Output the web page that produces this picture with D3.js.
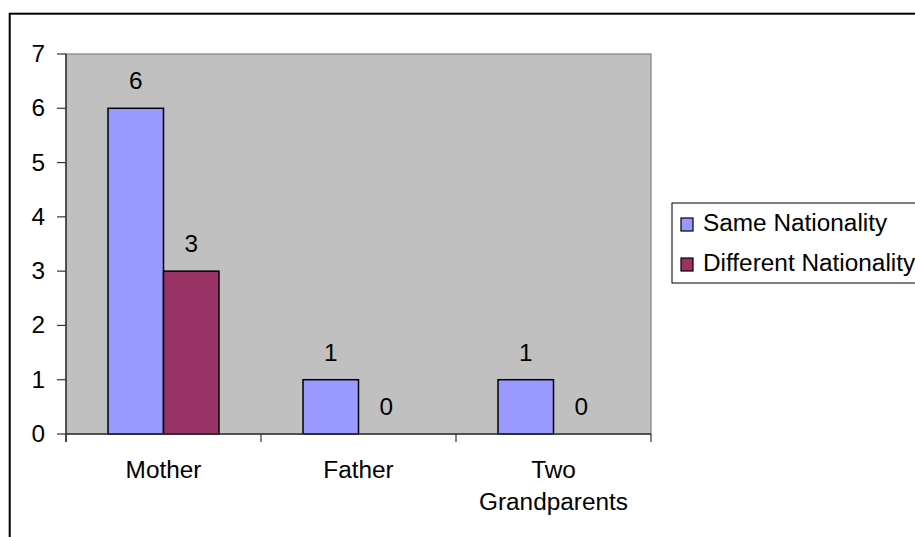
<!DOCTYPE html>
<html>
<head>
<meta charset="utf-8">
<script src="https://cdn.jsdelivr.net/npm/d3@7"></script>
<style>
  html, body { margin: 0; padding: 0; background: #fff; }
  svg { display: block; }
  text { font-family: "Liberation Sans", Arial, sans-serif; fill: #000; }
</style>
</head>
<body>
<svg id="chart" width="915" height="537"></svg>
<script>
const categories = ["Mother", "Father", "Two\nGrandparents"];
const seriesNames = ["Same Nationality", "Different Nationality"];
const sameValues = [6, 1, 1];
const differentValues = [3, 0, 0];
const yTicks = [0, 1, 2, 3, 4, 5, 6, 7];
const colors = ["#9999FF", "#993366"];

const seriesValues = [sameValues, differentValues];
const data = categories.map((c, i) => ({
  cat: c,
  vals: seriesNames.map((s, j) => ({ s, v: seriesValues[j][i] }))
}));

const svg = d3.select("#chart");
const SX = 1.06, FS = 23;

function txt(g, x, y, str, anchor) {
  return g.append("text")
    .attr("transform", `translate(${x},${y}) scale(${SX},1)`)
    .attr("text-anchor", anchor || "middle")
    .attr("font-size", FS)
    .text(str);
}

// outer border
svg.append("rect").attr("x", 9.7).attr("y", 13.7).attr("width", 1200).attr("height", 1200)
  .attr("fill", "none").attr("stroke", "#000").attr("stroke-width", 2);

const plot = { left: 66, right: 651, top: 54, bottom: 434 };

const x = d3.scaleBand().domain(categories).range([plot.left, plot.right]).paddingInner(0).paddingOuter(0);
const x1 = d3.scaleBand().domain(seriesNames).range([0, x.bandwidth()]).paddingInner(0).paddingOuter(0.757);
const y = d3.scaleLinear().domain([0, 7]).range([plot.bottom, plot.top]);

// plot area
svg.append("rect").attr("x", plot.left).attr("y", plot.top)
  .attr("width", plot.right - plot.left).attr("height", plot.bottom - plot.top)
  .attr("fill", "#C0C0C0").attr("stroke", "#808080").attr("stroke-width", 1.2);

// bars
const groups = svg.append("g").selectAll("g").data(data).join("g")
  .attr("transform", d => `translate(${x(d.cat)},0)`);
groups.selectAll("rect").data(d => d.vals).join("rect")
  .attr("x", d => x1(d.s))
  .attr("y", d => y(d.v))
  .attr("width", x1.bandwidth())
  .attr("height", d => y(0) - y(d.v))
  .attr("fill", (d, j) => colors[j])
  .attr("stroke", "#000")
  .attr("stroke-width", d => d.v > 0 ? 1.5 : 0);

// value labels
groups.each(function(d) {
  const g = d3.select(this);
  d.vals.forEach(v => {
    txt(g, x1(v.s) + x1.bandwidth() / 2, y(v.v) - 19, String(v.v));
  });
});

// y axis
const ya = svg.append("g");
ya.append("line").attr("x1", plot.left).attr("x2", plot.left).attr("y1", plot.top).attr("y2", plot.bottom + 8)
  .attr("stroke", "#333").attr("stroke-width", 1.5);
yTicks.forEach(t => {
  ya.append("line").attr("x1", plot.left - 9).attr("x2", plot.left).attr("y1", y(t)).attr("y2", y(t))
    .attr("stroke", "#333").attr("stroke-width", 1.2);
  txt(ya, plot.left - 21, y(t) + 8, String(t), "end");
});

// x axis
const xa = svg.append("g");
xa.append("line").attr("x1", plot.left).attr("x2", plot.right).attr("y1", plot.bottom).attr("y2", plot.bottom)
  .attr("stroke", "#333").attr("stroke-width", 1.5);
const bounds = categories.map(c => x(c)).concat([x(categories[categories.length - 1]) + x.bandwidth()]);
bounds.forEach(b => {
  xa.append("line").attr("x1", b).attr("x2", b).attr("y1", plot.bottom).attr("y2", plot.bottom + 8)
    .attr("stroke", "#333").attr("stroke-width", 1.2);
});
categories.forEach(c => {
  const lines = c.split("\n");
  lines.forEach((ln, k) => {
    txt(xa, x(c) + x.bandwidth() / 2, 478 + k * 32, ln);
  });
});

// legend
const lg = svg.append("g");
lg.append("rect").attr("x", 672).attr("y", 203).attr("width", 300).attr("height", 80)
  .attr("fill", "#fff").attr("stroke", "#000").attr("stroke-width", 1);
seriesNames.forEach((s, j) => {
  const yy = 218 + j * 40;
  lg.append("rect").attr("x", 681).attr("y", yy).attr("width", 12).attr("height", 13)
    .attr("fill", colors[j]).attr("stroke", "#000").attr("stroke-width", 1.2);
  txt(lg, 703, yy + 13, s, "start");
});
</script>
</body>
</html>
